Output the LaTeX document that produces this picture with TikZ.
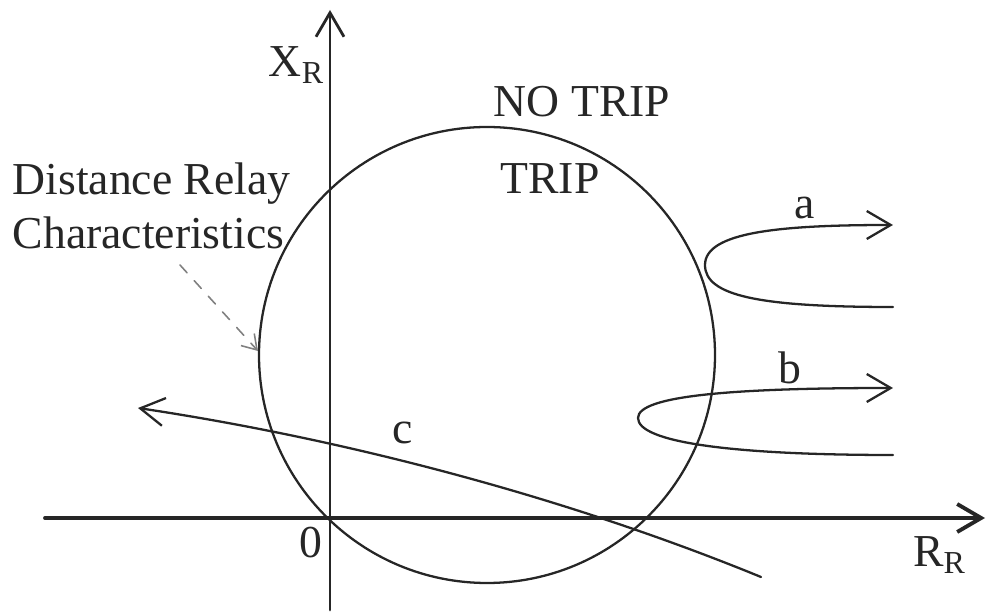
\documentclass[tikz,border=0pt]{standalone}
\usepackage{fontspec}
\setmainfont{Liberation Serif}
\usetikzlibrary{arrows.meta}
\begin{document}
\begin{tikzpicture}[>={Straight Barb[length=2.4mm,width=2.8mm]},line join=round,line cap=round,
	font=\fontsize{13}{15.5}\selectfont,
	axisline/.style={->,line width=0.8pt,draw=black!85},
	locus/.style={line width=0.65pt,draw=black!85},
	lbl/.style={inner sep=0pt,text=black!85}]
	\useasboundingbox (-3.30,-0.94) rectangle (6.57,5.18);
	\coordinate (O) at (0,0);
	\coordinate (Rmin) at (-2.85,0);
	\coordinate (Rmax) at (6.55,0);
	\coordinate (Xmin) at (0,-0.92);
	\coordinate (Xmax) at (0,5.08);
	\coordinate (M) at (1.57,1.63);
	\draw[axisline,line width=1.1pt] (Rmin)--(Rmax);
	\draw[axisline] (Xmin)--(Xmax);
	\draw[locus] (M) circle (2.28);
	\node[lbl] (XR) at (-0.33,4.53) {X\textsubscript{R}};
	\node[lbl] (RR) at (6.10,-0.37) {R\textsubscript{R}};
	\node[lbl] (zero) at (-0.19,-0.25) {0};
	\node[lbl] (notrip) at (2.52,4.16) {NO TRIP};
	\node[lbl] (trip) at (2.20,3.39) {TRIP};
	\node[lbl,align=left,anchor=west] (relay) at (-3.18,3.12) {Distance Relay\\Characteristics};
	% dashed pointer to the mho circle
	\coordinate (D1) at (-1.50,2.53);
	\coordinate (D2) at (-0.72,1.67);
	\draw[dashed,gray,line width=0.45pt,-{Straight Barb[length=1.4mm,width=1.8mm]}] (D1)--(D2);
	% impedance loci
	\coordinate (A1) at (5.63,2.11);
	\coordinate (A2) at (3.75,2.53);
	\coordinate (A3) at (5.63,2.93);
	\draw[locus,->] (A1) .. controls (4.30,2.11) and (3.75,2.22) .. (A2) .. controls (3.75,2.86) and (4.50,2.93) .. (A3);
	\node[lbl] (a) at (4.75,3.10) {a};
	\coordinate (B1) at (5.63,0.63);
	\coordinate (B2) at (3.08,1.00);
	\coordinate (B3) at (5.63,1.30);
	\draw[locus,->] (B1) .. controls (4.00,0.63) and (3.08,0.76) .. (B2) .. controls (3.08,1.22) and (4.00,1.30) .. (B3);
	\node[lbl] (b) at (4.60,1.50) {b};
	\coordinate (C1) at (4.31,-0.59);
	\coordinate (C2) at (-1.92,1.10);
	\draw[locus,->] (C1) .. controls (2.31,0.23) and (0.08,0.80) .. (C2);
	\node[lbl] (c) at (0.73,0.85) {c};
\end{tikzpicture}
\end{document}
